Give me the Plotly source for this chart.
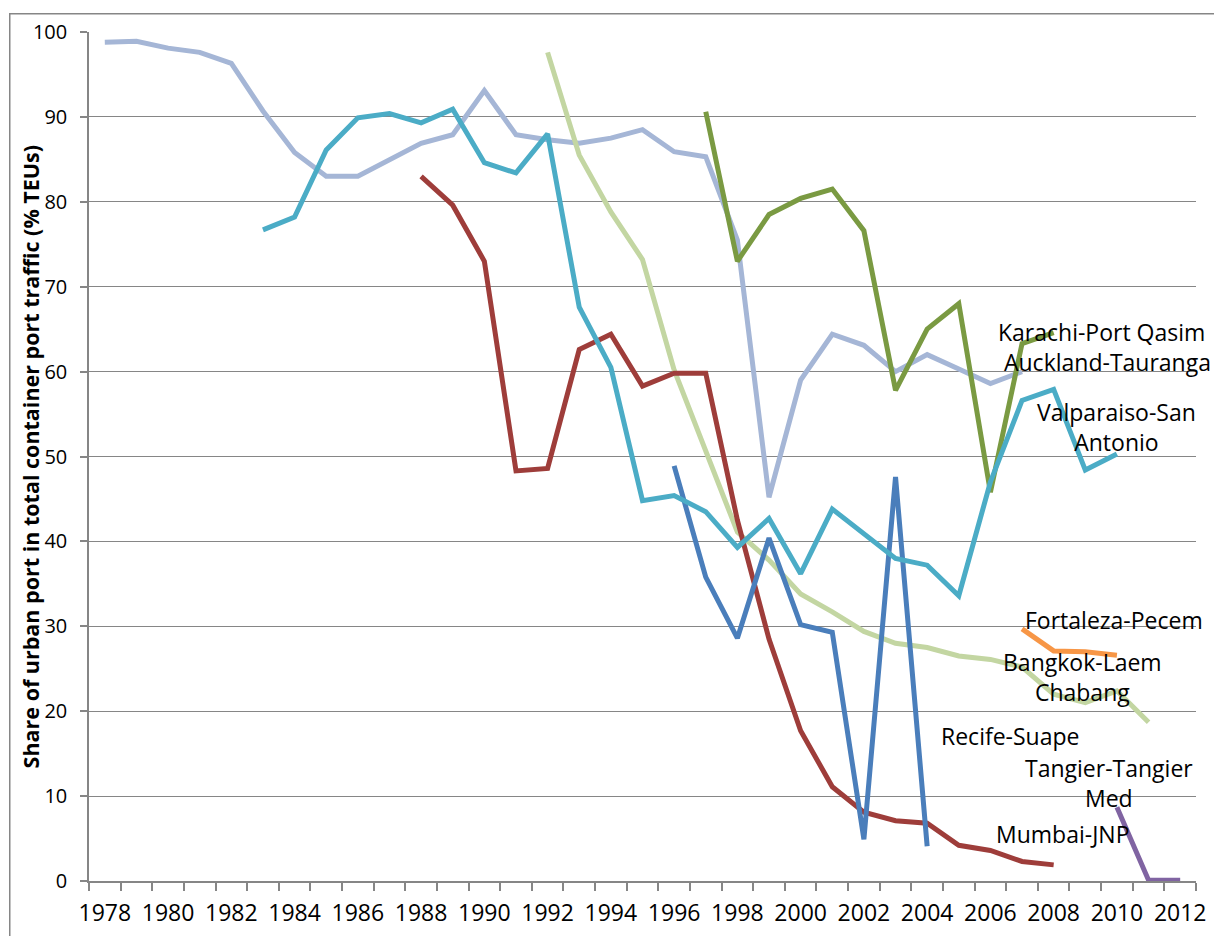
import plotly.graph_objects as go

# Share of the urban port in total container port traffic (% TEUs), by port pair
auckland_years = list(range(1978, 2008))
auckland_share = [98.8, 98.9, 98.1, 97.6, 96.3, 90.7, 85.8, 83.0, 83.0, 84.9,
                  86.9, 87.9, 93.1, 87.9, 87.3, 86.9, 87.5, 88.5, 85.9, 85.3,
                  75.5, 45.2, 59.0, 64.4, 63.1, 60.0, 62.0, 60.3, 58.6, 60.0]

bangkok_years = list(range(1992, 2012))
bangkok_share = [97.6, 85.5, 78.8, 73.2, 60.2, 50.5, 41.1, 37.8, 33.8, 31.7,
                 29.4, 28.0, 27.5, 26.5, 26.1, 25.2, 22.0, 21.0, 22.4, 18.7]

karachi_years = list(range(1997, 2009))
karachi_share = [90.6, 73.0, 78.5, 80.4, 81.5, 76.6, 57.8, 65.0, 68.0, 45.8, 63.3, 64.6]

mumbai_years = list(range(1988, 2009))
mumbai_share = [83.0, 79.6, 73.0, 48.3, 48.6, 62.6, 64.4, 58.3, 59.8, 59.8,
                42.5, 28.5, 17.7, 11.1, 8.1, 7.1, 6.8, 4.2, 3.6, 2.3, 1.9]

recife_years = list(range(1996, 2005))
recife_share = [48.9, 35.8, 28.6, 40.4, 30.2, 29.3, 4.9, 47.6, 4.1]

valparaiso_years = list(range(1983, 2011))
valparaiso_share = [76.7, 78.2, 86.1, 89.9, 90.4, 89.3, 90.9, 84.6, 83.4, 88.0,
                    67.6, 60.5, 44.8, 45.4, 43.5, 39.3, 42.7, 36.2, 43.8, 40.9,
                    38.0, 37.2, 33.6, 47.0, 56.6, 57.9, 48.4, 50.3]

fortaleza_years = list(range(2007, 2011))
fortaleza_share = [29.7, 27.1, 27.0, 26.6]

tangier_years = list(range(2010, 2013))
tangier_share = [8.7, 0.1, 0.1]

series = [
    ("Auckland-Tauranga", auckland_years, auckland_share, "#A5B6D6"),
    ("Bangkok-Laem Chabang", bangkok_years, bangkok_share, "#C3D6A2"),
    ("Karachi-Port Qasim", karachi_years, karachi_share, "#7A9A42"),
    ("Mumbai-JNP", mumbai_years, mumbai_share, "#9E3D3A"),
    ("Recife-Suape", recife_years, recife_share, "#4A7EBB"),
    ("Valparaiso-San Antonio", valparaiso_years, valparaiso_share, "#4BACC6"),
    ("Fortaleza-Pecem", fortaleza_years, fortaleza_share, "#F79646"),
    ("Tangier-Tangier Med", tangier_years, tangier_share, "#8064A2"),
]

# Series name labels: (text, year, share, anchor) placed beside the line ends
labels = [
    ("Karachi-Port Qasim<br>&nbsp;Auckland-Tauranga", 2006.17, 62.85, "left"),
    ("Valparaiso-San<br>Antonio", 2009.98, 53.45, "center"),
    ("Fortaleza-Pecem", 2009.9, 30.7, "center"),
    ("Bangkok-Laem<br>Chabang", 2008.9, 24.05, "center"),
    ("Recife-Suape", 2006.62, 17.1, "center"),
    ("Tangier-Tangier<br>Med", 2009.74, 11.56, "center"),
    ("Mumbai-JNP", 2008.27, 5.5, "center"),
]

FONT = "Open Sans"
GREY = "#868686"

fig = go.Figure()
for name, yrs, vals, color in series:
    fig.add_trace(go.Scatter(
        x=yrs, y=vals, mode="lines", name=name,
        line=dict(color=color, width=5),
        showlegend=False,
    ))

for text, yr, val, anchor in labels:
    fig.add_annotation(
        x=yr, y=val, xref="x", yref="y", text=text, showarrow=False,
        xanchor=anchor, yanchor="middle", align=anchor,
        font=dict(family=FONT, size=23, color="#000000"),
    )

# Vertical axis title
fig.add_annotation(
    x=-0.0525, y=0.5, xref="paper", yref="paper",
    text="<b>Share of urban port in total container port traffic (% TEUs)</b>",
    textangle=-90, showarrow=False, xanchor="center", yanchor="middle",
    font=dict(family=FONT, size=21.5, color="#000000"),
)

# Chart-area frame: an empty bordered box running off the right and bottom edges
fig.add_annotation(
    x=-0.0723, y=1.0224, xref="paper", yref="paper",
    xanchor="left", yanchor="top", text=" ", showarrow=False,
    width=1300, height=1000, borderpad=0,
    bordercolor=GREY, borderwidth=1.5, bgcolor="rgba(0,0,0,0)",
)

fig.update_layout(
    width=1214, height=936,
    margin=dict(l=89, r=18, t=32, b=55, autoexpand=False),
    paper_bgcolor="white", plot_bgcolor="white",
    font=dict(family=FONT, color="#000000"),
    xaxis=dict(
        range=[1977.5, 2012.5], tickmode="linear", tick0=1978, dtick=2,
        ticks="", showgrid=False, zeroline=False, automargin=False,
        showline=True, linecolor=GREY, linewidth=1.5,
        tickfont=dict(family=FONT, size=23, color="#000000"),
        ticklabelstandoff=11,
        minor=dict(tick0=1977.5, dtick=1, ticks="outside", ticklen=8,
                   tickcolor=GREY, tickwidth=1.5, showgrid=False),
    ),
    yaxis=dict(
        range=[0, 100], tickmode="linear", tick0=0, dtick=10,
        showgrid=True, gridcolor=GREY, gridwidth=1.2, zeroline=False,
        automargin=False,
        showline=True, linecolor=GREY, linewidth=1.5,
        ticks="outside", ticklen=7, tickcolor=GREY, tickwidth=1.5,
        tickfont=dict(family=FONT, size=20, color="#000000"),
        ticklabelstandoff=9,
    ),
)

fig.write_html("out.html")
